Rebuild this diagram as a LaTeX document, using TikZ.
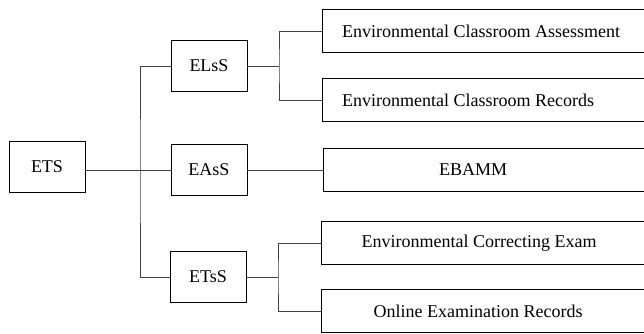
\documentclass[tikz,border=0pt]{standalone}
\usepackage{fontspec}
\setmainfont{Liberation Serif}
\usepackage{tikz}

\begin{document}
\begin{tikzpicture}[x=1pt,y=-1pt]
					\tikzstyle{box}=[rectangle,draw=black,line width=0.9pt,minimum width=76pt,minimum height=51pt,inner sep=0pt,font=\fontsize{18}{21}\selectfont]
					\tikzstyle{leaf}=[rectangle,draw=black,line width=0.9pt,minimum width=330pt,minimum height=43pt,inner sep=0pt]
					\tikzstyle{txt}=[inner sep=0pt,font=\fontsize{18}{21}\selectfont]
					\tikzstyle{wire}=[draw=black!75,line width=0.9pt]
					\useasboundingbox (0,0) rectangle (644,333);
					% boxes
					\node[box] (ets) at (47,167) {ETS};
					\node[box] (elss) at (209,66) {ELsS};
					\node[box] (eass) at (209,170) {EAsS};
					\node[box] (etss) at (208,277) {ETsS};
					\node[leaf] (eca) at (487,31) {};
					\node[leaf] (ecr) at (487,100) {};
					\node[leaf] (ebamm) at (488,170) {};
					\node[leaf] (ece) at (486,243) {};
					\node[leaf] (oer) at (486,311) {};
					\node[txt,anchor=west] (t1) at (342,31) {Environmental Classroom Assessment};
					\node[txt,anchor=west] (t2) at (342,100) {Environmental Classroom Records};
					\node[txt] (t3) at (473,170) {EBAMM};
					\node[txt] (t4) at (479,243) {Environmental Correcting Exam};
					\node[txt] (t5) at (478,311) {Online Examination Records};
					% lines
					\coordinate (j1) at (140,170);
					\coordinate (j2) at (279,66);
					\coordinate (j3) at (278,277);
					\draw[wire] (eass.west -| ets.east) -- (eass);
					\draw[wire] (elss.west) -| (j1) |- (etss.west);
					\draw[wire] (elss) -- (j2);
					\draw[wire] (eca.west) -| (j2) |- (ecr.west);
					\draw[wire] (eass) -- (ebamm);
					\draw[wire] (etss) -- (j3);
					\draw[wire] (ece.west) -| (j3) |- (oer.west);
					\end{tikzpicture}
\end{document}
